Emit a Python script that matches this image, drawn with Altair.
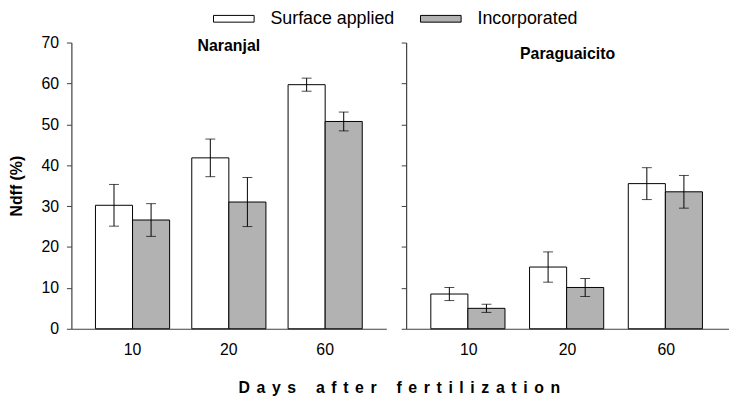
import altair as alt
import pandas as pd

# ---- data ----
sites = ["Naranjal"] * 6 + ["Paraguaicito"] * 6
days = ["10", "10", "20", "20", "60", "60"] * 2
treatments = ["Surface applied", "Incorporated"] * 6
means = [30.2, 26.6, 41.8, 31.0, 59.7, 50.7,
         8.5, 5.0, 15.1, 10.1, 35.5, 33.5]
sds = [5.1, 4.0, 4.6, 6.0, 1.6, 2.3,
       1.6, 1.0, 3.7, 2.2, 3.9, 4.0]
day_order = ["10", "20", "60"]
treat_order = ["Surface applied", "Incorporated"]
y_ticks = [0, 10, 20, 30, 40, 50, 60, 70]

# letter-spaced axis title (spacing characters are not collapsed by the browser)
SEP = "\u2004\u200a"
x_title = (SEP * 3).join(SEP.join(w) for w in "Days after fertilization".split(" "))

df = pd.DataFrame(dict(site=sites, day=days, treatment=treatments, mean=means, sd=sds))
df["lo"] = df["mean"] - df["sd"]
df["hi"] = df["mean"] + df["sd"]

FONT = "Liberation Sans"
AXIS_COLOR = "#404040"
H = 289


def panel(site, width, first):
    d = df[df.site == site]
    x = alt.X("day:N", sort=day_order,
              scale=alt.Scale(paddingInner=0.23, paddingOuter=0.25),
              axis=alt.Axis(title=None, ticks=False, labelAngle=0, labelFontSize=16,
                            labelPadding=13, labelColor="black", labelFont=FONT,
                            domainColor=AXIS_COLOR, domainWidth=1.2))
    xo = alt.XOffset("treatment:N", sort=treat_order,
                     scale=alt.Scale(domain=treat_order, paddingInner=0, paddingOuter=0))
    yaxis = alt.Axis(values=y_ticks, title="Ndff (%)" if first else None, labels=first,
                     grid=False, tickSize=5, tickColor=AXIS_COLOR, domainColor=AXIS_COLOR,
                     domainWidth=1.2, labelFontSize=16, labelFont=FONT, labelColor="black",
                     labelPadding=8, titleFontSize=16, titleFont=FONT, titleFontWeight="bold",
                     titleColor="black", titlePadding=17)
    yscale = alt.Scale(domain=[0, 70], nice=False)
    bars = alt.Chart(d).mark_bar(stroke="black", strokeWidth=1).encode(
        x=x, xOffset=xo,
        y=alt.Y("mean:Q", scale=yscale, axis=yaxis),
        color=alt.Color("treatment:N", sort=treat_order,
                        scale=alt.Scale(domain=treat_order, range=["white", "#b2b2b2"]),
                        legend=alt.Legend(orient="none", legendX=155, legendY=-33,
                                          direction="horizontal", title=None,
                                          symbolType="M-4.1,-0.68H4.1V0.68H-4.1Z",
                                          symbolSize=100, symbolStrokeColor="black",
                                          symbolStrokeWidth=1, labelFontSize=18,
                                          labelFont=FONT, labelColor="black",
                                          labelOffset=28, columnPadding=23)),
    )
    rules = alt.Chart(d).mark_rule(color="black", strokeWidth=1).encode(
        x=x, xOffset=xo,
        y=alt.Y("lo:Q", scale=yscale, axis=yaxis), y2="hi:Q")
    cap_lo = alt.Chart(d).mark_tick(color="black", size=10, thickness=1).encode(
        x=x, xOffset=xo, y=alt.Y("lo:Q", scale=yscale, axis=yaxis))
    cap_hi = alt.Chart(d).mark_tick(color="black", size=10, thickness=1).encode(
        x=x, xOffset=xo, y=alt.Y("hi:Q", scale=yscale, axis=yaxis))
    return alt.layer(bars, rules, cap_lo, cap_hi).properties(
        width=width, height=H,
        title=alt.Title(site, offset=-20, fontSize=16, font=FONT, fontWeight="bold",
                        color="black", anchor="middle"))


chart = alt.hconcat(panel("Naranjal", 318, True), panel("Paraguaicito", 326, False),
                    spacing=14).properties(
    padding={"left": 0, "top": 0, "right": 0, "bottom": 0},
    title=alt.Title(x_title, orient="bottom",
                    anchor="middle", fontSize=16, font=FONT, fontWeight="bold",
                    color="black", offset=23, dx=31),
).configure_view(stroke=None)

chart.save("out.html", embed_options={"renderer": "svg", "actions": False})
